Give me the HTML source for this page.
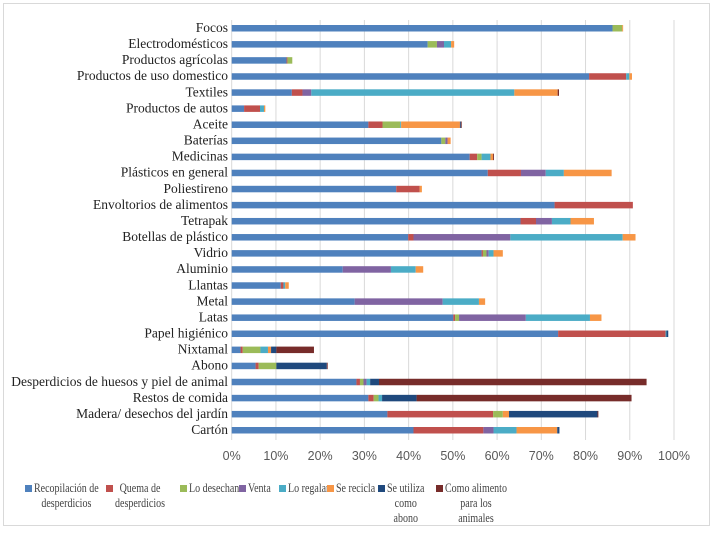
<!DOCTYPE html>
<html><head><meta charset="utf-8"><style>
body{margin:0;background:#fff;font-family:"Liberation Serif",serif;}
#wrap{position:relative;width:714px;height:532px;}
.leg{position:absolute;top:481px;font-size:12.5px;color:#444;line-height:15px;white-space:nowrap;}
.sq{position:absolute;left:0;top:4px;width:7px;height:7px;}
.tx{position:absolute;left:9px;top:0;text-align:center;transform:scaleX(0.8);transform-origin:0 0;}
</style></head><body>
<div id="wrap">
<svg id="svg" width="714" height="532"></svg>
<div class="leg" style="left:25px"><span class="sq" style="background:#4f81bd"></span><span class="tx">Recopilación de<br>desperdicios</span></div>
<div class="leg" style="left:106px"><span class="sq" style="background:#c0504d"></span><span class="tx">Quema de<br>desperdicios</span></div>
<div class="leg" style="left:180px"><span class="sq" style="background:#9bbb59"></span><span class="tx">Lo desechan</span></div>
<div class="leg" style="left:239px"><span class="sq" style="background:#8064a2"></span><span class="tx">Venta</span></div>
<div class="leg" style="left:279px"><span class="sq" style="background:#4bacc6"></span><span class="tx">Lo regalan</span></div>
<div class="leg" style="left:327px"><span class="sq" style="background:#f79646"></span><span class="tx">Se recicla</span></div>
<div class="leg" style="left:378px"><span class="sq" style="background:#1f497d"></span><span class="tx">Se utiliza<br>como<br>abono</span></div>
<div class="leg" style="left:436px"><span class="sq" style="background:#772c2a"></span><span class="tx">Como alimento<br>para los<br>animales</span></div>
</div>
<script>
const categories=["Focos","Electrodomésticos","Productos agrícolas","Productos de uso domestico","Textiles","Productos de autos","Aceite","Baterías","Medicinas","Plásticos en general","Poliestireno","Envoltorios de alimentos","Tetrapak","Botellas de plástico","Vidrio","Aluminio","Llantas","Metal","Latas","Papel higiénico","Nixtamal","Abono","Desperdicios de huesos y piel de animal","Restos de comida","Madera/ desechos del jardín","Cartón"];
const recopilacion=[86.1,44.3,12.4,80.8,13.6,2.8,30.9,47.4,53.8,57.9,37.2,73.0,65.3,39.9,56.5,25.1,11.1,27.8,50.1,73.8,2.0,5.4,28.2,30.9,35.2,41.1];
const quema=[0,0,0.2,8.4,2.4,3.6,3.2,0,1.7,7.5,5.3,17.7,3.5,1.2,0.3,0,0.6,0,0.4,24.3,0.5,0.7,0.8,1.2,23.9,15.8];
const desechan=[2.2,2.1,1.1,0,0,0,4.0,0.9,1.0,0,0,0,0,0,0.8,0,0,0,0.9,0,4.0,4.0,0.8,1.1,2.2,0];
const venta=[0,1.6,0,0,2.0,0,0,0.5,0,5.6,0,0,3.6,21.9,0.5,10.9,0,19.9,15.1,0,0,0,0.7,0,0,2.3];
const regalan=[0,1.6,0,0.7,45.9,0.9,0.2,0,2.0,4.1,0,0,4.2,25.4,1.1,5.6,0.4,8.2,14.5,0.2,1.7,0,0.8,0.8,0,5.2];
const recicla=[0.2,0.7,0,0.6,9.8,0.3,13.3,0.7,0.6,10.8,0.5,0,5.3,2.9,2.1,1.7,0.8,1.4,2.6,0,0.7,0,0,0,1.4,9.2];
const abono=[0,0,0,0,0,0,0.2,0,0,0,0,0,0,0,0,0,0,0,0,0.4,1.2,11.4,2.0,7.8,20.0,0.5];
const animales=[0,0,0,0,0.3,0,0.2,0,0.2,0,0,0,0,0,0,0,0,0,0,0,8.5,0.2,60.5,48.6,0.2,0];
const series=[recopilacion,quema,desechan,venta,regalan,recicla,abono,animales];
const seriesNames=["recopilacion","quema","desechan","venta","regalan","recicla","abono","animales"];
const colors=["#4f81bd","#c0504d","#9bbb59","#8064a2","#4bacc6","#f79646","#1f497d","#772c2a"];
const ticks=[0,10,20,30,40,50,60,70,80,90,100];
const NS="http://www.w3.org/2000/svg",svg=document.getElementById("svg");
const x0=231.7,x1=674,yTop=20,yBot=440;
const xs=v=>x0+(x1-x0)*v/100;
const ys=i=>28+i*(430-28)/(categories.length-1);
function mk(t,a){const e=document.createElementNS(NS,t);for(const k in a)e.setAttribute(k,a[k]);svg.appendChild(e);return e;}
const fr=mk("rect",{x:3.5,y:3.5,width:706,height:522,fill:"none",stroke:"#d9d9d9"});


ticks.forEach(t=>{
  const g=mk("line",{x1:xs(t),x2:xs(t),y1:yTop,y2:yBot,stroke:"#d9d9d9","stroke-width":1});
  
  
  const l=mk("text",{x:xs(t),y:460,"text-anchor":"middle","font-size":12.5,fill:"#595959","font-family":"Liberation Sans, sans-serif"});
  l.textContent=t+"%";
  
  
});
categories.forEach((c,i)=>{
  const l=mk("text",{x:228,y:ys(i)+4,"text-anchor":"end","font-size":13.5,fill:"#222","font-family":"Liberation Serif, serif"});
  l.textContent=c;
  
  
  let acc=0;
  series.forEach((s,j)=>{
    const v=s[i];if(v<=0)return;
    const r=mk("rect",{x:xs(acc),y:ys(i)-3,width:xs(acc+v)-xs(acc),height:6.5,fill:colors[j]});
    
    
    acc+=v;
  });
});
</script>
</body></html>
